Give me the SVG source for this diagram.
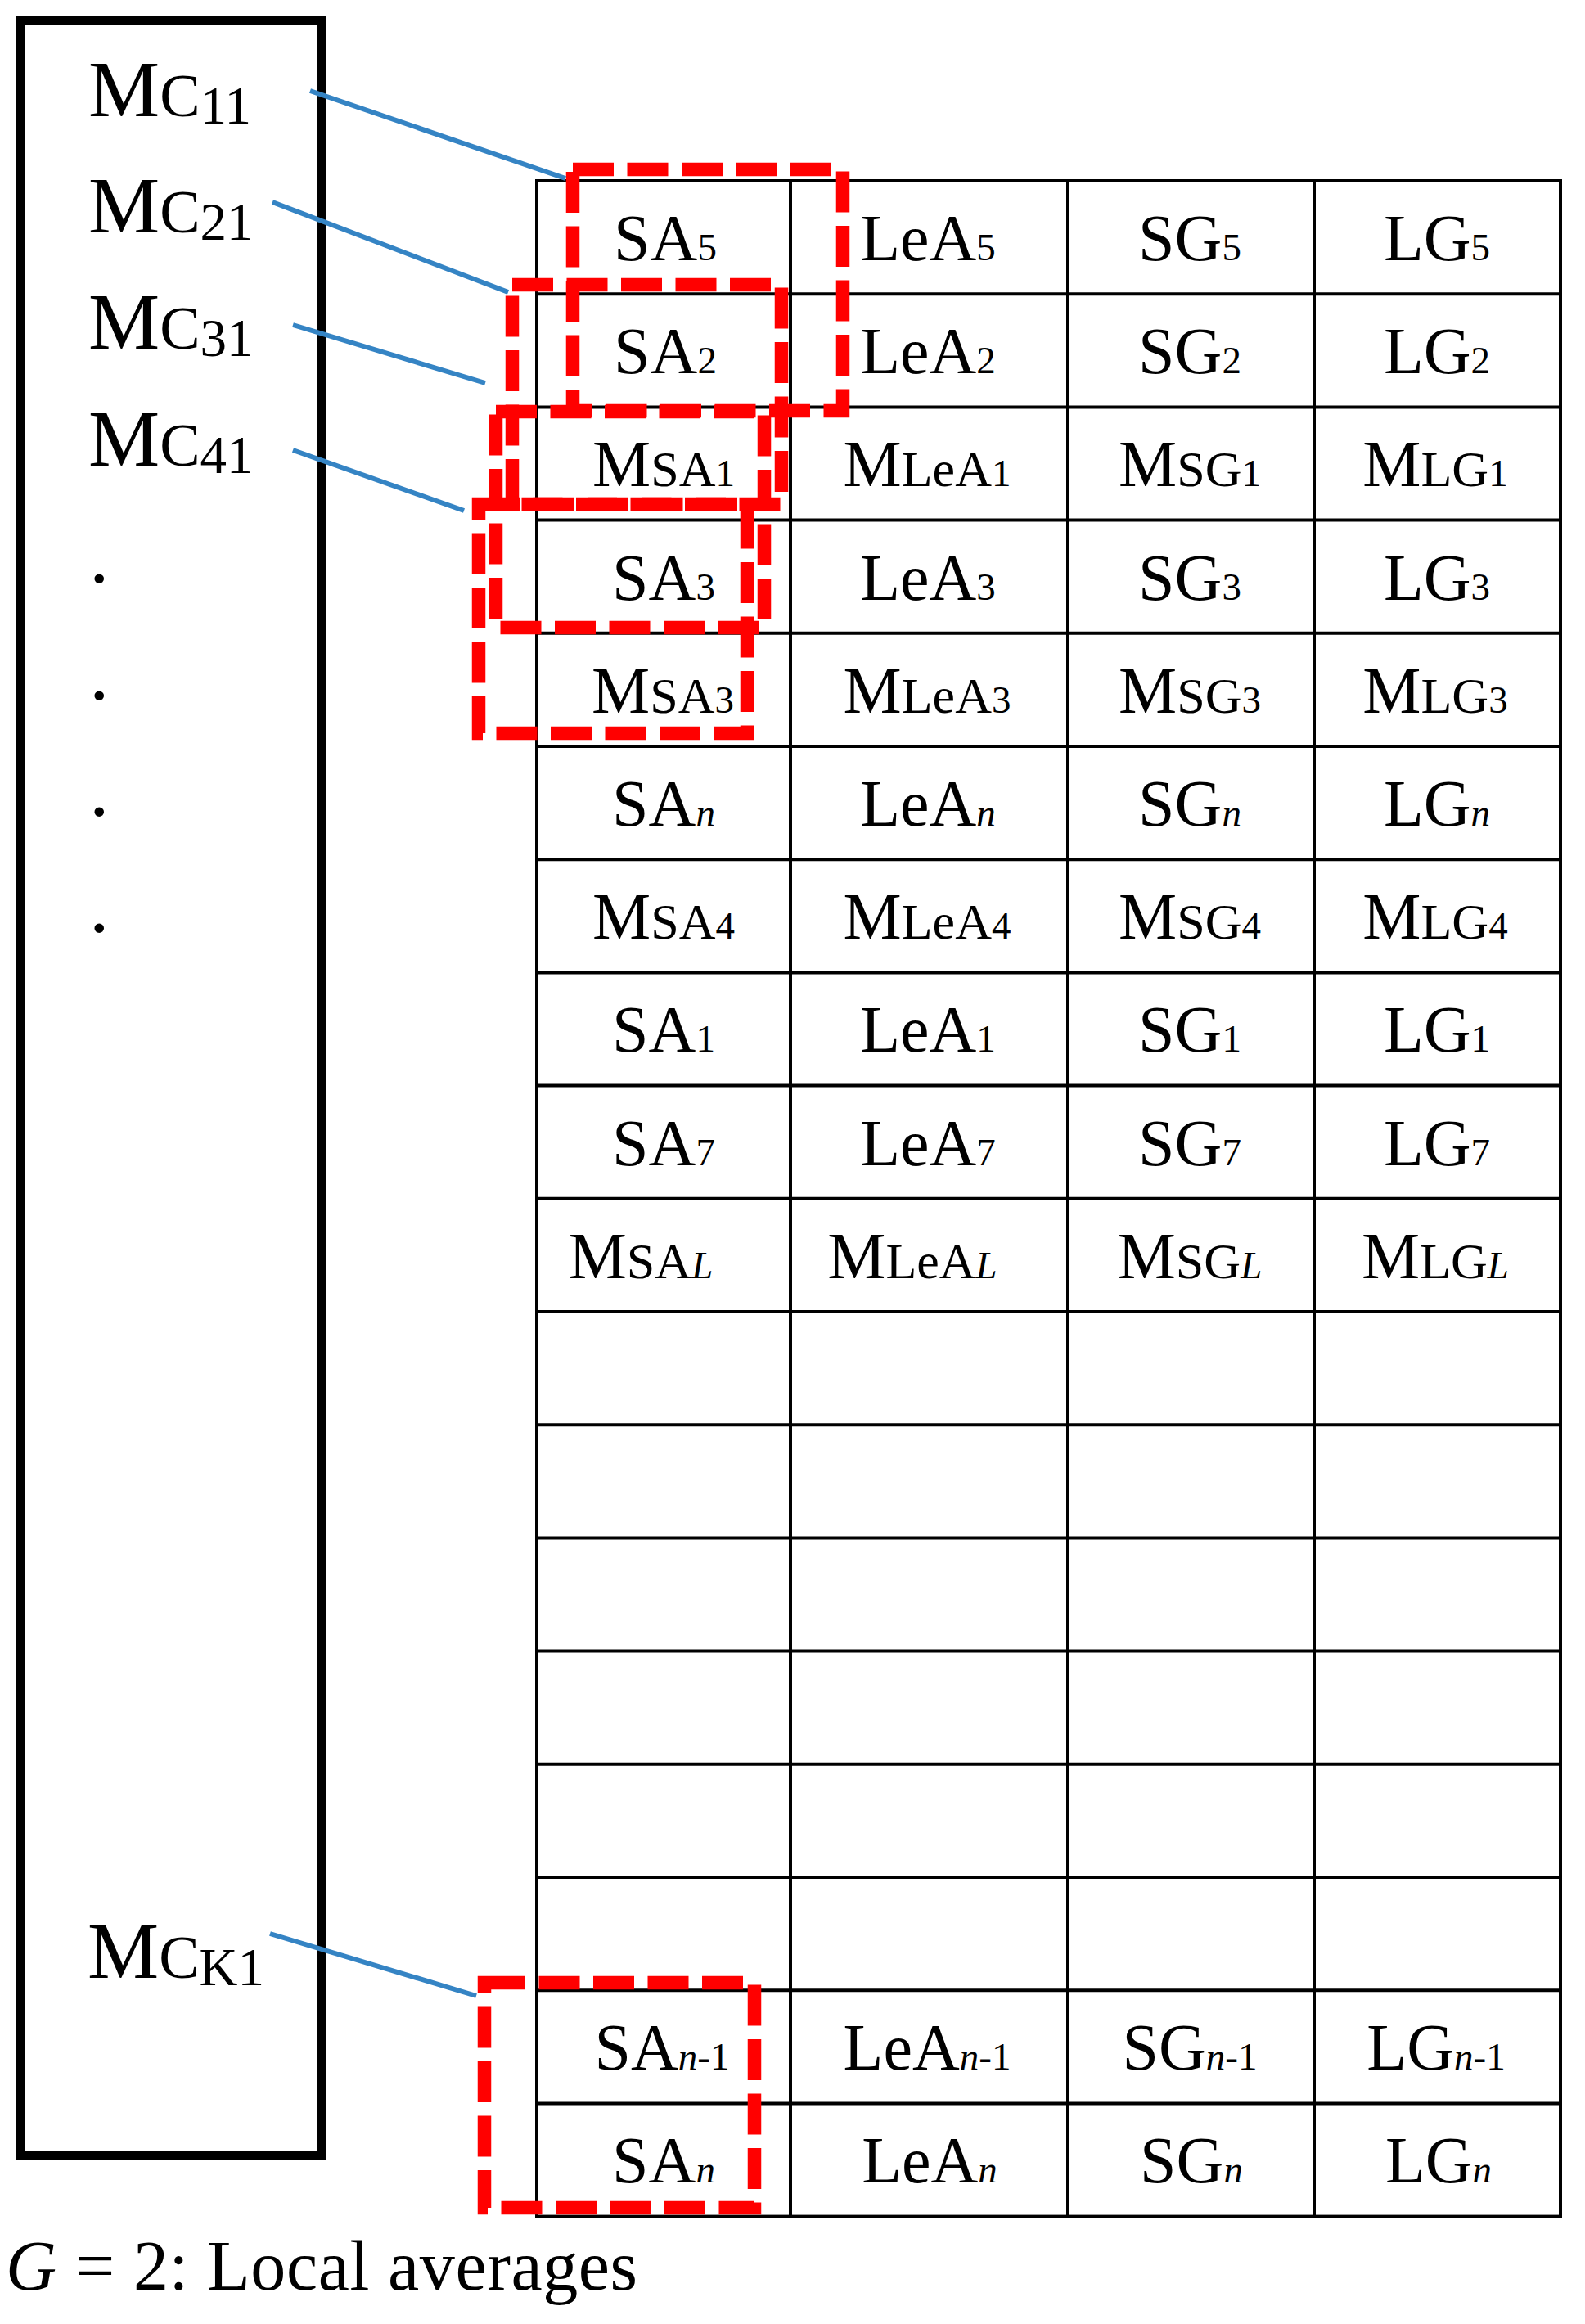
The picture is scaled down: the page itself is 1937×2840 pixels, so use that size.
<svg xmlns="http://www.w3.org/2000/svg" width="1937" height="2840" viewBox="0 0 1937 2840">
<style>
text{font-family:"Liberation Serif","Times New Roman",serif;fill:#000}
.mc{font-size:98px}
.mcs{font-size:74px}
.mcn{font-size:65px}
.t{font-size:80px;text-anchor:middle}
.sc{font-size:62px}
.sb{font-size:47px}
.it{font-style:italic}
.grid{stroke:#000;stroke-width:4;fill:none}
.sel{fill:none;stroke:#FF0000;stroke-width:16.5;stroke-dasharray:50 16.5}
.conn{stroke:#3584C4;stroke-width:6;fill:none}
</style>
<rect width="1937" height="2840" fill="#fff"/>

<g id="mc-panel">
<rect x="25.5" y="24.5" width="367" height="2609" fill="none" stroke="#000" stroke-width="11"/>
<g id="mc11"><text class="mc" x="108" y="142">M<tspan class="mcs">C</tspan><tspan class="mcn" dy="9">11</tspan></text></g>
<g id="mc21"><text class="mc" x="108" y="284">M<tspan class="mcs">C</tspan><tspan class="mcn" dy="9">21</tspan></text></g>
<g id="mc31"><text class="mc" x="108" y="426">M<tspan class="mcs">C</tspan><tspan class="mcn" dy="9">31</tspan></text></g>
<g id="mc41"><text class="mc" x="108" y="569">M<tspan class="mcs">C</tspan><tspan class="mcn" dy="9">41</tspan></text></g>
<g id="dots">
<text class="mc" x="109" y="712">.</text>
<text class="mc" x="109" y="855">.</text>
<text class="mc" x="109" y="997">.</text>
<text class="mc" x="109" y="1139">.</text>
</g>
<g id="mck1"><text class="mc" x="107" y="2417">M<tspan class="mcs">C</tspan><tspan class="mcn" dy="9">K1</tspan></text></g>
</g>

<g id="table">
<rect class="grid" x="656" y="221" width="1251" height="2487.6"/>
<g class="grid">
<line x1="966" y1="221" x2="966" y2="2708.6"/>
<line x1="1305" y1="221" x2="1305" y2="2708.6"/>
<line x1="1606" y1="221" x2="1606" y2="2708.6"/>
<line x1="656" y1="359.2" x2="1907" y2="359.2"/>
<line x1="656" y1="497.4" x2="1907" y2="497.4"/>
<line x1="656" y1="635.6" x2="1907" y2="635.6"/>
<line x1="656" y1="773.8" x2="1907" y2="773.8"/>
<line x1="656" y1="912" x2="1907" y2="912"/>
<line x1="656" y1="1050.2" x2="1907" y2="1050.2"/>
<line x1="656" y1="1188.4" x2="1907" y2="1188.4"/>
<line x1="656" y1="1326.6" x2="1907" y2="1326.6"/>
<line x1="656" y1="1464.8" x2="1907" y2="1464.8"/>
<line x1="656" y1="1603" x2="1907" y2="1603"/>
<line x1="656" y1="1741.2" x2="1907" y2="1741.2"/>
<line x1="656" y1="1879.4" x2="1907" y2="1879.4"/>
<line x1="656" y1="2017.6" x2="1907" y2="2017.6"/>
<line x1="656" y1="2155.8" x2="1907" y2="2155.8"/>
<line x1="656" y1="2294" x2="1907" y2="2294"/>
<line x1="656" y1="2432.2" x2="1907" y2="2432.2"/>
<line x1="656" y1="2570.4" x2="1907" y2="2570.4"/>
</g>

<g id="row0">
<text class="t" x="813" y="318">SA<tspan class="sb">5</tspan></text>
<text class="t" x="1134" y="318">LeA<tspan class="sb">5</tspan></text>
<text class="t" x="1454" y="318">SG<tspan class="sb">5</tspan></text>
<text class="t" x="1756" y="318">LG<tspan class="sb">5</tspan></text>
</g>
<g id="row1">
<text class="t" x="813" y="456">SA<tspan class="sb">2</tspan></text>
<text class="t" x="1134" y="456">LeA<tspan class="sb">2</tspan></text>
<text class="t" x="1454" y="456">SG<tspan class="sb">2</tspan></text>
<text class="t" x="1756" y="456">LG<tspan class="sb">2</tspan></text>
</g>
<g id="row2">
<text class="t" x="811" y="594">M<tspan class="sc">SA</tspan><tspan class="sb">1</tspan></text>
<text class="t" x="1133" y="594">M<tspan class="sc">LeA</tspan><tspan class="sb">1</tspan></text>
<text class="t" x="1454" y="594">M<tspan class="sc">SG</tspan><tspan class="sb">1</tspan></text>
<text class="t" x="1754" y="594">M<tspan class="sc">LG</tspan><tspan class="sb">1</tspan></text>
</g>
<g id="row3">
<text class="t" x="811" y="733">SA<tspan class="sb">3</tspan></text>
<text class="t" x="1134" y="733">LeA<tspan class="sb">3</tspan></text>
<text class="t" x="1454" y="733">SG<tspan class="sb">3</tspan></text>
<text class="t" x="1756" y="733">LG<tspan class="sb">3</tspan></text>
</g>
<g id="row4">
<text class="t" x="810" y="871">M<tspan class="sc">SA</tspan><tspan class="sb">3</tspan></text>
<text class="t" x="1133" y="871">M<tspan class="sc">LeA</tspan><tspan class="sb">3</tspan></text>
<text class="t" x="1454" y="871">M<tspan class="sc">SG</tspan><tspan class="sb">3</tspan></text>
<text class="t" x="1754" y="871">M<tspan class="sc">LG</tspan><tspan class="sb">3</tspan></text>
</g>
<g id="row5">
<text class="t" x="811" y="1009">SA<tspan class="sb it">n</tspan></text>
<text class="t" x="1134" y="1009">LeA<tspan class="sb it">n</tspan></text>
<text class="t" x="1454" y="1009">SG<tspan class="sb it">n</tspan></text>
<text class="t" x="1756" y="1009">LG<tspan class="sb it">n</tspan></text>
</g>
<g id="row6">
<text class="t" x="811" y="1147">M<tspan class="sc">SA</tspan><tspan class="sb">4</tspan></text>
<text class="t" x="1133" y="1147">M<tspan class="sc">LeA</tspan><tspan class="sb">4</tspan></text>
<text class="t" x="1454" y="1147">M<tspan class="sc">SG</tspan><tspan class="sb">4</tspan></text>
<text class="t" x="1754" y="1147">M<tspan class="sc">LG</tspan><tspan class="sb">4</tspan></text>
</g>
<g id="row7">
<text class="t" x="811" y="1285">SA<tspan class="sb">1</tspan></text>
<text class="t" x="1134" y="1285">LeA<tspan class="sb">1</tspan></text>
<text class="t" x="1454" y="1285">SG<tspan class="sb">1</tspan></text>
<text class="t" x="1756" y="1285">LG<tspan class="sb">1</tspan></text>
</g>
<g id="row8">
<text class="t" x="811" y="1424">SA<tspan class="sb">7</tspan></text>
<text class="t" x="1134" y="1424">LeA<tspan class="sb">7</tspan></text>
<text class="t" x="1454" y="1424">SG<tspan class="sb">7</tspan></text>
<text class="t" x="1756" y="1424">LG<tspan class="sb">7</tspan></text>
</g>
<g id="row9">
<text class="t" x="783" y="1562">M<tspan class="sc">SA</tspan><tspan class="sb it">L</tspan></text>
<text class="t" x="1115" y="1562">M<tspan class="sc">LeA</tspan><tspan class="sb it">L</tspan></text>
<text class="t" x="1454" y="1562">M<tspan class="sc">SG</tspan><tspan class="sb it">L</tspan></text>
<text class="t" x="1754" y="1562">M<tspan class="sc">LG</tspan><tspan class="sb it">L</tspan></text>
</g>
<g id="row16">
<text class="t" x="809" y="2529">SA<tspan class="sb it">n</tspan><tspan class="sb">-1</tspan></text>
<text class="t" x="1133" y="2529">LeA<tspan class="sb it">n</tspan><tspan class="sb">-1</tspan></text>
<text class="t" x="1454" y="2529">SG<tspan class="sb it">n</tspan><tspan class="sb">-1</tspan></text>
<text class="t" x="1755" y="2529">LG<tspan class="sb it">n</tspan><tspan class="sb">-1</tspan></text>
</g>
<g id="row17">
<text class="t" x="811" y="2667">SA<tspan class="sb it">n</tspan></text>
<text class="t" x="1136" y="2667">LeA<tspan class="sb it">n</tspan></text>
<text class="t" x="1456" y="2667">SG<tspan class="sb it">n</tspan></text>
<text class="t" x="1758" y="2667">LG<tspan class="sb it">n</tspan></text>
</g>
</g>

<g id="selections">
<g id="sel-a"><path class="sel" d="M700 207H1030V502H700Z"/></g>
<g id="sel-b"><path class="sel" d="M626 348H955V616H626Z"/></g>
<g id="sel-c"><path class="sel" d="M606 503H934V767H606Z"/></g>
<g id="sel-d"><path class="sel" d="M585 616H913V896H585Z"/></g>
<g id="sel-e"><path class="sel" d="M592 2423H922V2698H592Z"/></g>
</g>

<g id="connectors">
<line class="conn" x1="379" y1="111" x2="691" y2="218"/>
<line class="conn" x1="333" y1="247" x2="621" y2="357"/>
<line class="conn" x1="358" y1="397" x2="593" y2="468"/>
<line class="conn" x1="358" y1="550" x2="567" y2="624"/>
<line class="conn" x1="330" y1="2363" x2="582" y2="2439"/>
</g>

<g id="caption">
<text x="7" y="2798" font-size="86" textLength="772" lengthAdjust="spacing"><tspan class="it">G</tspan> = 2: Local averages</text>
</g>
</svg>
